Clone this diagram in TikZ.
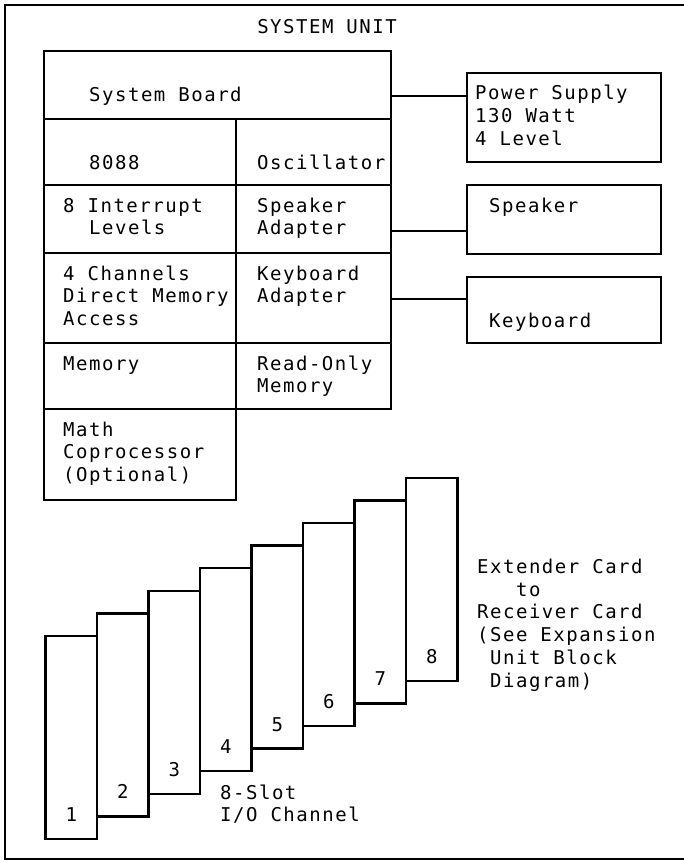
\documentclass[tikz,border=0pt]{standalone}
\usepackage{fontspec}
\newfontfamily\ibmfont[LetterSpace=8]{DejaVu Sans Mono}
\usetikzlibrary{positioning}
\tikzset{cell/.style={draw,rectangle,line width=2.4pt,inner sep=0pt,outer sep=0pt,anchor=north west},
card/.style={cell,minimum width=51.5pt,minimum height=203pt},
txt/.style={font=\ibmfont\fontsize{19}{22.7}\selectfont,inner sep=0pt,align=left,anchor=base west},
wire/.style={line width=2.4pt}}
\begin{document}
\begin{tikzpicture}[x=1pt,y=1pt]
\useasboundingbox (0,0) rectangle (683,-861);
\draw[line width=2.4pt] (5,-5) rectangle (700,-859);
\node[txt,anchor=base] (title) at (327,-34) {SYSTEM UNIT};
% system board
\node[cell,minimum width=347pt,minimum height=68pt] (board) at (44,-51) {};
\node[cell,minimum width=192pt,minimum height=66pt] (cpu) at (board.south west) {};
\node[cell,minimum width=155pt,minimum height=66pt] (osc) at (cpu.north east) {};
\node[cell,minimum width=192pt,minimum height=68pt] (irq) at (cpu.south west) {};
\node[cell,minimum width=155pt,minimum height=68pt] (spkad) at (irq.north east) {};
\node[cell,minimum width=192pt,minimum height=90pt] (dma) at (irq.south west) {};
\node[cell,minimum width=155pt,minimum height=90pt] (kbdad) at (dma.north east) {};
\node[cell,minimum width=192pt,minimum height=66pt] (mem) at (dma.south west) {};
\node[cell,minimum width=155pt,minimum height=66pt] (rom) at (mem.north east) {};
\node[cell,minimum width=192pt,minimum height=91pt] (math) at (mem.south west) {};
% multi-line texts sit on their last line
\node[txt] (boardtxt) at (89,-102) {System Board};
\node[txt] (cputxt) at (89,-169) {8088};
\node[txt] (osctxt) at (257,-169) {Oscillator};
\node[txt] (irqtxt) at (63,-234.7) {8 Interrupt\\\hspace*{26pt}Levels};
\node[txt] (spkadtxt) at (257,-234.7) {Speaker\\Adapter};
\node[txt] (dmatxt) at (63,-325.4) {4 Channels\\Direct Memory\\Access};
\node[txt] (kbdadtxt) at (257,-302.7) {Keyboard\\Adapter};
\node[txt] (memtxt) at (63,-370) {Memory};
\node[txt] (romtxt) at (257,-392.7) {Read-Only\\Memory};
\node[txt] (mathtxt) at (63,-481.4) {Math\\Coprocessor\\(Optional)};
% outside units
\node[cell,minimum width=194pt,minimum height=89pt] (power) at (467,-73) {};
\node[cell,minimum width=194pt,minimum height=69pt] (speaker) at (467,-185) {};
\node[cell,minimum width=194pt,minimum height=66pt] (keyboard) at (467,-277) {};
\node[txt] (powertxt) at (475,-145.4) {Power Supply\\130 Watt\\4 Level};
\node[txt] (speakertxt) at (489,-212) {Speaker};
\node[txt] (keyboardtxt) at (489,-327) {Keyboard};
\draw[wire] ([yshift=-11pt]board.east) -- ([yshift=-11pt]board.east -| power.west);
\draw[wire] ([yshift=-12pt]spkad.east) -- ([yshift=-12pt]spkad.east -| speaker.west);
\draw[wire] ([yshift=-1pt]kbdad.east) -- ([yshift=-1pt]kbdad.east -| keyboard.west);
% i/o slots
\node[card] (card1) at (45.5,-636) {};
\node[card] (card2) at ([yshift=22.6pt]card1.north east) {};
\node[card] (card3) at ([yshift=22.6pt]card2.north east) {};
\node[card] (card4) at ([yshift=22.6pt]card3.north east) {};
\node[card] (card5) at ([yshift=22.6pt]card4.north east) {};
\node[card] (card6) at ([yshift=22.6pt]card5.north east) {};
\node[card] (card7) at ([yshift=22.6pt]card6.north east) {};
\node[card] (card8) at ([yshift=22.6pt]card7.north east) {};
\node[txt,anchor=base] (num1) at ([yshift=17.5pt]card1.south) {1};
\node[txt,anchor=base] (num2) at ([yshift=17.5pt]card2.south) {2};
\node[txt,anchor=base] (num3) at ([yshift=17.5pt]card3.south) {3};
\node[txt,anchor=base] (num4) at ([yshift=17.5pt]card4.south) {4};
\node[txt,anchor=base] (num5) at ([yshift=17.5pt]card5.south) {5};
\node[txt,anchor=base] (num6) at ([yshift=17.5pt]card6.south) {6};
\node[txt,anchor=base] (num7) at ([yshift=17.5pt]card7.south) {7};
\node[txt,anchor=base] (num8) at ([yshift=17.5pt]card8.south) {8};
\node[txt] (slottxt) at (220,-821.7) {8-Slot\\I/O Channel};
\node[txt] (extendtxt) at (477,-687) {Extender Card\\\hspace*{39pt}to\\Receiver Card\\(See Expansion\\\hspace*{13pt}Unit Block\\\hspace*{13pt}Diagram)};
\end{tikzpicture}
\end{document}
